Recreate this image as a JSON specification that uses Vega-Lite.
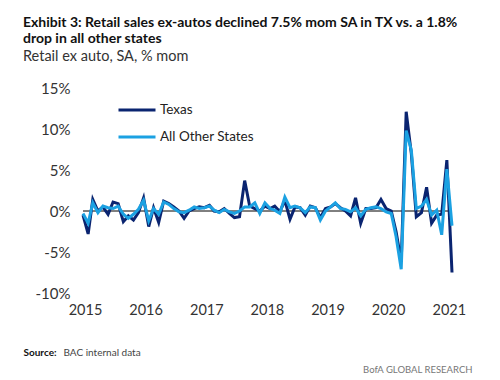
{
  "$schema": "https://vega.github.io/schema/vega-lite/v6.json",
  "width": 369,
  "height": 205,
  "autosize": {"type": "none"},
  "padding": {"left": 83, "top": 88, "right": 48, "bottom": 87},
  "background": "white",
  "config": {
    "view": {"stroke": null},
    "font": "Lato, sans-serif"
  },
  "title": {
    "text": ["Exhibit 3: Retail sales ex-autos declined 7.5% mom SA in TX vs. a 1.8%", "drop in all other states"],
    "subtitle": "Retail ex auto, SA, % mom",
    "anchor": "start",
    "frame": "group",
    "dx": -60,
    "offset": 18,
    "fontSize": 14,
    "fontWeight": "bold",
    "color": "#111111",
    "lineHeight": 16,
    "subtitleFontSize": 14.5,
    "subtitleColor": "#333333",
    "subtitlePadding": 4
  },
  "datasets": {
    "zero": [{"zero": 0}]
  },
  "data": {
    "values": [
      {"date": "2015/01/01", "series": "Texas", "value": -0.5},
      {"date": "2015/02/01", "series": "Texas", "value": -2.8},
      {"date": "2015/03/01", "series": "Texas", "value": 1.4},
      {"date": "2015/04/01", "series": "Texas", "value": 0.0},
      {"date": "2015/05/01", "series": "Texas", "value": 0.5},
      {"date": "2015/06/01", "series": "Texas", "value": -0.4},
      {"date": "2015/07/01", "series": "Texas", "value": 1.1},
      {"date": "2015/08/01", "series": "Texas", "value": 0.9},
      {"date": "2015/09/01", "series": "Texas", "value": -1.3},
      {"date": "2015/10/01", "series": "Texas", "value": -0.6},
      {"date": "2015/11/01", "series": "Texas", "value": -1.1},
      {"date": "2015/12/01", "series": "Texas", "value": -0.2},
      {"date": "2016/01/01", "series": "Texas", "value": 1.6},
      {"date": "2016/02/01", "series": "Texas", "value": -1.9},
      {"date": "2016/03/01", "series": "Texas", "value": 0.4},
      {"date": "2016/04/01", "series": "Texas", "value": -1.4},
      {"date": "2016/05/01", "series": "Texas", "value": 1.2},
      {"date": "2016/06/01", "series": "Texas", "value": 0.9},
      {"date": "2016/07/01", "series": "Texas", "value": 0.5},
      {"date": "2016/08/01", "series": "Texas", "value": 0.0},
      {"date": "2016/09/01", "series": "Texas", "value": -0.9},
      {"date": "2016/10/01", "series": "Texas", "value": 0.0},
      {"date": "2016/11/01", "series": "Texas", "value": 0.3},
      {"date": "2016/12/01", "series": "Texas", "value": 0.5},
      {"date": "2017/01/01", "series": "Texas", "value": 0.4},
      {"date": "2017/02/01", "series": "Texas", "value": 0.7},
      {"date": "2017/03/01", "series": "Texas", "value": 0.0},
      {"date": "2017/04/01", "series": "Texas", "value": -0.1},
      {"date": "2017/05/01", "series": "Texas", "value": 0.3},
      {"date": "2017/06/01", "series": "Texas", "value": -0.3},
      {"date": "2017/07/01", "series": "Texas", "value": -0.8},
      {"date": "2017/08/01", "series": "Texas", "value": -0.7},
      {"date": "2017/09/01", "series": "Texas", "value": 3.7},
      {"date": "2017/10/01", "series": "Texas", "value": 0.6},
      {"date": "2017/11/01", "series": "Texas", "value": 0.3},
      {"date": "2017/12/01", "series": "Texas", "value": 0.0},
      {"date": "2018/01/01", "series": "Texas", "value": 0.6},
      {"date": "2018/02/01", "series": "Texas", "value": 0.3},
      {"date": "2018/03/01", "series": "Texas", "value": 0.6},
      {"date": "2018/04/01", "series": "Texas", "value": -0.1},
      {"date": "2018/05/01", "series": "Texas", "value": 1.3},
      {"date": "2018/06/01", "series": "Texas", "value": -1.0},
      {"date": "2018/07/01", "series": "Texas", "value": 0.5},
      {"date": "2018/08/01", "series": "Texas", "value": 0.4},
      {"date": "2018/09/01", "series": "Texas", "value": -0.5},
      {"date": "2018/10/01", "series": "Texas", "value": 0.6},
      {"date": "2018/11/01", "series": "Texas", "value": 0.4},
      {"date": "2018/12/01", "series": "Texas", "value": -0.8},
      {"date": "2019/01/01", "series": "Texas", "value": 0.3},
      {"date": "2019/02/01", "series": "Texas", "value": 0.5},
      {"date": "2019/03/01", "series": "Texas", "value": 0.9},
      {"date": "2019/04/01", "series": "Texas", "value": 0.4},
      {"date": "2019/05/01", "series": "Texas", "value": 0.0},
      {"date": "2019/06/01", "series": "Texas", "value": -0.6},
      {"date": "2019/07/01", "series": "Texas", "value": 1.6},
      {"date": "2019/08/01", "series": "Texas", "value": -1.5},
      {"date": "2019/09/01", "series": "Texas", "value": 0.3},
      {"date": "2019/10/01", "series": "Texas", "value": 0.3},
      {"date": "2019/11/01", "series": "Texas", "value": 0.4},
      {"date": "2019/12/01", "series": "Texas", "value": 1.4},
      {"date": "2020/01/01", "series": "Texas", "value": 0.3},
      {"date": "2020/02/01", "series": "Texas", "value": 0.0},
      {"date": "2020/03/01", "series": "Texas", "value": -2.5},
      {"date": "2020/04/01", "series": "Texas", "value": -6.2},
      {"date": "2020/05/01", "series": "Texas", "value": 12.1},
      {"date": "2020/06/01", "series": "Texas", "value": 7.0},
      {"date": "2020/07/01", "series": "Texas", "value": -0.7},
      {"date": "2020/08/01", "series": "Texas", "value": -0.2},
      {"date": "2020/09/01", "series": "Texas", "value": 2.9},
      {"date": "2020/10/01", "series": "Texas", "value": -1.5},
      {"date": "2020/11/01", "series": "Texas", "value": -0.5},
      {"date": "2020/12/01", "series": "Texas", "value": -0.4},
      {"date": "2021/01/01", "series": "Texas", "value": 6.2},
      {"date": "2021/02/01", "series": "Texas", "value": -7.5},
      {"date": "2015/01/01", "series": "All Other States", "value": -0.3},
      {"date": "2015/02/01", "series": "All Other States", "value": -1.5},
      {"date": "2015/03/01", "series": "All Other States", "value": 1.0},
      {"date": "2015/04/01", "series": "All Other States", "value": -0.2},
      {"date": "2015/05/01", "series": "All Other States", "value": 0.6},
      {"date": "2015/06/01", "series": "All Other States", "value": 0.4},
      {"date": "2015/07/01", "series": "All Other States", "value": 0.3},
      {"date": "2015/08/01", "series": "All Other States", "value": 0.6},
      {"date": "2015/09/01", "series": "All Other States", "value": -0.4},
      {"date": "2015/10/01", "series": "All Other States", "value": -0.9},
      {"date": "2015/11/01", "series": "All Other States", "value": -0.4},
      {"date": "2015/12/01", "series": "All Other States", "value": 0.2},
      {"date": "2016/01/01", "series": "All Other States", "value": 1.3},
      {"date": "2016/02/01", "series": "All Other States", "value": -1.2},
      {"date": "2016/03/01", "series": "All Other States", "value": 0.3},
      {"date": "2016/04/01", "series": "All Other States", "value": -0.4},
      {"date": "2016/05/01", "series": "All Other States", "value": 1.1},
      {"date": "2016/06/01", "series": "All Other States", "value": 0.8},
      {"date": "2016/07/01", "series": "All Other States", "value": 0.3},
      {"date": "2016/08/01", "series": "All Other States", "value": -0.1},
      {"date": "2016/09/01", "series": "All Other States", "value": -0.2},
      {"date": "2016/10/01", "series": "All Other States", "value": 0.1},
      {"date": "2016/11/01", "series": "All Other States", "value": 0.5},
      {"date": "2016/12/01", "series": "All Other States", "value": 0.3},
      {"date": "2017/01/01", "series": "All Other States", "value": 0.4},
      {"date": "2017/02/01", "series": "All Other States", "value": 0.6},
      {"date": "2017/03/01", "series": "All Other States", "value": 0.1},
      {"date": "2017/04/01", "series": "All Other States", "value": -0.2},
      {"date": "2017/05/01", "series": "All Other States", "value": 0.2},
      {"date": "2017/06/01", "series": "All Other States", "value": -0.1},
      {"date": "2017/07/01", "series": "All Other States", "value": -0.3},
      {"date": "2017/08/01", "series": "All Other States", "value": 0.0},
      {"date": "2017/09/01", "series": "All Other States", "value": 0.5},
      {"date": "2017/10/01", "series": "All Other States", "value": 0.5},
      {"date": "2017/11/01", "series": "All Other States", "value": 1.0},
      {"date": "2017/12/01", "series": "All Other States", "value": -0.3},
      {"date": "2018/01/01", "series": "All Other States", "value": 1.0},
      {"date": "2018/02/01", "series": "All Other States", "value": 0.3},
      {"date": "2018/03/01", "series": "All Other States", "value": 0.1},
      {"date": "2018/04/01", "series": "All Other States", "value": -0.3},
      {"date": "2018/05/01", "series": "All Other States", "value": 1.7},
      {"date": "2018/06/01", "series": "All Other States", "value": 0.4},
      {"date": "2018/07/01", "series": "All Other States", "value": 0.6},
      {"date": "2018/08/01", "series": "All Other States", "value": 0.4},
      {"date": "2018/09/01", "series": "All Other States", "value": -0.2},
      {"date": "2018/10/01", "series": "All Other States", "value": 0.5},
      {"date": "2018/11/01", "series": "All Other States", "value": 0.4},
      {"date": "2018/12/01", "series": "All Other States", "value": -1.1},
      {"date": "2019/01/01", "series": "All Other States", "value": 0.0},
      {"date": "2019/02/01", "series": "All Other States", "value": 0.5},
      {"date": "2019/03/01", "series": "All Other States", "value": 1.0},
      {"date": "2019/04/01", "series": "All Other States", "value": 0.3},
      {"date": "2019/05/01", "series": "All Other States", "value": 0.2},
      {"date": "2019/06/01", "series": "All Other States", "value": -0.1},
      {"date": "2019/07/01", "series": "All Other States", "value": 0.4},
      {"date": "2019/08/01", "series": "All Other States", "value": -0.6},
      {"date": "2019/09/01", "series": "All Other States", "value": 0.2},
      {"date": "2019/10/01", "series": "All Other States", "value": 0.4},
      {"date": "2019/11/01", "series": "All Other States", "value": 0.5},
      {"date": "2019/12/01", "series": "All Other States", "value": 0.3},
      {"date": "2020/01/01", "series": "All Other States", "value": -0.1},
      {"date": "2020/02/01", "series": "All Other States", "value": -0.3},
      {"date": "2020/03/01", "series": "All Other States", "value": -3.1},
      {"date": "2020/04/01", "series": "All Other States", "value": -7.1},
      {"date": "2020/05/01", "series": "All Other States", "value": 9.8},
      {"date": "2020/06/01", "series": "All Other States", "value": 7.4},
      {"date": "2020/07/01", "series": "All Other States", "value": 0.3},
      {"date": "2020/08/01", "series": "All Other States", "value": 0.6},
      {"date": "2020/09/01", "series": "All Other States", "value": 1.4},
      {"date": "2020/10/01", "series": "All Other States", "value": -0.5},
      {"date": "2020/11/01", "series": "All Other States", "value": 0.1},
      {"date": "2020/12/01", "series": "All Other States", "value": -2.9},
      {"date": "2021/01/01", "series": "All Other States", "value": 5.1},
      {"date": "2021/02/01", "series": "All Other States", "value": -1.8}
    ],
    "format": {"parse": {"date": "date"}}
  },
  "layer": [
    {
      "data": {"name": "zero"},
      "mark": {"type": "rule", "color": "#000000", "strokeWidth": 1},
      "encoding": {
        "y": {
          "field": "zero",
          "type": "quantitative",
          "axis": {
            "orient": "right",
            "labels": false,
            "ticks": false,
            "domain": false,
            "grid": false,
            "title": "BofA GLOBAL RESEARCH",
            "titleAngle": 0,
            "titleX": 20,
            "titleY": 284,
            "titleAlign": "right",
            "titleBaseline": "alphabetic",
            "titleFontSize": 9.5,
            "titleFontWeight": "normal",
            "titleColor": "#777777"
          }
        }
      }
    },
    {
      "mark": {"type": "line", "strokeWidth": 3, "strokeJoin": "miter"},
      "encoding": {
        "x": {
          "field": "date",
          "type": "temporal",
          "scale": {"domain": [{"year": 2015, "month": 1, "date": 1}, {"year": 2021, "month": 2, "date": 1}]},
          "axis": {
            "values": [
              {"year": 2015, "month": 1, "date": 1},
              {"year": 2016, "month": 1, "date": 1},
              {"year": 2017, "month": 1, "date": 1},
              {"year": 2018, "month": 1, "date": 1},
              {"year": 2019, "month": 1, "date": 1},
              {"year": 2020, "month": 1, "date": 1},
              {"year": 2021, "month": 1, "date": 1}
            ],
            "format": "%Y",
            "labelFontSize": 14.5,
            "labelColor": "#333333",
            "labelPadding": 10,
            "labelOffset": 2,
            "labelFlush": false,
            "labelOverlap": false,
            "ticks": false,
            "domain": false,
            "grid": false,
            "title": "Source:",
            "titleX": -60,
            "titleY": 62,
            "titleAlign": "left",
            "titleAnchor": "start",
            "titleBaseline": "alphabetic",
            "titleFontSize": 10,
            "titleFontWeight": "bold",
            "titleColor": "#111111"
          }
        },
        "y": {
          "field": "value",
          "type": "quantitative",
          "scale": {"domain": [-10, 15], "nice": false, "zero": false},
          "axis": {
            "orient": "left",
            "values": [-10, -5, 0, 5, 10, 15],
            "labelExpr": "datum.value + '%'",
            "labelFontSize": 15,
            "labelColor": "#333333",
            "labelPadding": 13,
            "ticks": false,
            "domain": false,
            "grid": false,
            "title": "BAC internal data",
            "titleAngle": 0,
            "titleX": -20,
            "titleY": 267,
            "titleAlign": "left",
            "titleBaseline": "alphabetic",
            "titleFontSize": 10,
            "titleFontWeight": "normal",
            "titleColor": "#444444"
          }
        },
        "color": {
          "field": "series",
          "type": "nominal",
          "scale": {"domain": ["Texas", "All Other States"], "range": ["#0a2470", "#1ba1e2"]},
          "legend": {
            "title": null,
            "orient": "none",
            "legendX": 34,
            "legendY": 2,
            "symbolType": "stroke",
            "symbolSize": 1369,
            "symbolStrokeWidth": 3,
            "labelFontSize": 13.5,
            "labelColor": "#222222",
            "labelOffset": 3,
            "rowPadding": -21
          }
        }
      }
    }
  ],
  "resolve": {"axis": {"y": "independent"}}
}
